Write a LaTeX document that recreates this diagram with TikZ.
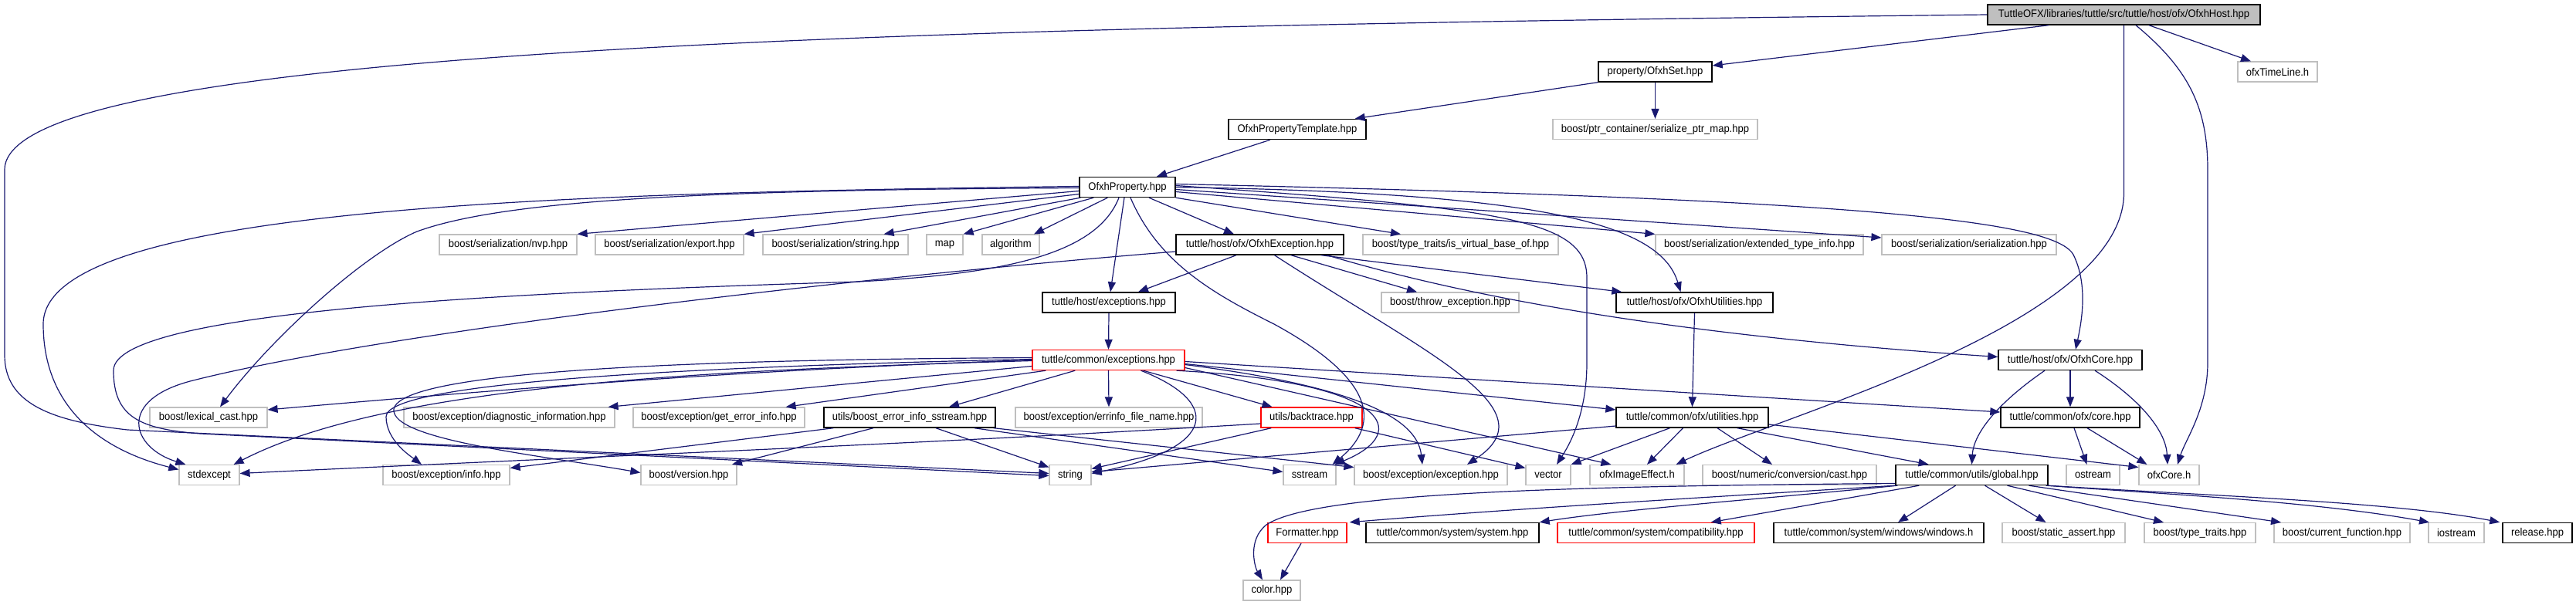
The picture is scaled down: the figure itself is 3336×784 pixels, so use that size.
\documentclass[tikz,border=0pt]{standalone}
\usepackage{fontspec}
\setmainfont{Liberation Sans}[FakeStretch=0.93]
\usetikzlibrary{arrows.meta,calc}
\definecolor{eblue}{RGB}{25,25,112}
\definecolor{dgray}{RGB}{191,191,191}
\definecolor{rootgray}{RGB}{191,191,191}
\newcommand\dfont{\fontsize{14}{16}\selectfont}
\tikzset{
  nd/.style={rectangle, minimum height=26pt, inner sep=0pt, fill=white, font=\dfont, text=black},
  ext/.style={nd, draw=dgray, line width=1.2pt},
  doc/.style={nd, draw=black, line width=1.4pt},
  trunc/.style={nd, draw=red, line width=1.4pt},
  root/.style={nd, draw=black, fill=rootgray, line width=1.4pt},
  bw/.style={minimum width=#1pt},
  edge/.style={draw=eblue, line width=1.2pt, -{Triangle[length=13pt,width=10pt]}}
}
\begin{document}
\begin{tikzpicture}[x=1pt,y=-1pt]
\useasboundingbox (0,0) rectangle (3336,784);
% row 0
\node[root,bw=353] (host) at (2750.5,19) {TuttleOFX/libraries/tuttle/src/tuttle/host/ofx/OfxhHost.hpp};
% row 1
\node[doc,bw=147] (oset) at (2143.5,93) {property/OfxhSet.hpp};
\node[ext,bw=103] (tline) at (2949.5,93) {ofxTimeLine.h};
% row 2
\node[doc,bw=178] (tmpl) at (1680,167.5) {OfxhPropertyTemplate.hpp};
\node[ext,bw=265] (sptr) at (2143.5,167.5) {boost/ptr\_container/serialize\_ptr\_map.hpp};
% row 3
\node[doc,bw=124] (prop) at (1460,242.5) {OfxhProperty.hpp};
% row 4
\node[ext,bw=178] (nvp) at (658,317) {boost/serialization/nvp.hpp};
\node[ext,bw=192] (export) at (867,317) {boost/serialization/export.hpp};
\node[ext,bw=188] (sstrh) at (1082,317) {boost/serialization/string.hpp};
\node[ext,bw=47] (map) at (1223.5,317) {map};
\node[ext,bw=74] (algo) at (1309,317) {algorithm};
\node[doc,bw=217] (oexc) at (1631.5,317) {tuttle/host/ofx/OfxhException.hpp};
\node[ext,bw=253] (ivb) at (1891.5,317) {boost/type\_traits/is\_virtual\_base\_of.hpp};
\node[ext,bw=269] (eti) at (2278.5,317) {boost/serialization/extended\_type\_info.hpp};
\node[ext,bw=226] (ser) at (2550,317) {boost/serialization/serialization.hpp};
% row 5
\node[doc,bw=172] (hexc) at (1436,392) {tuttle/host/exceptions.hpp};
\node[ext,bw=178] (thr) at (1878,392) {boost/throw\_exception.hpp};
\node[doc,bw=203] (outil) at (2194.5,392) {tuttle/host/ofx/OfxhUtilities.hpp};
% row 6
\node[trunc,bw=197] (cexc) at (1435.5,466.5) {tuttle/common/exceptions.hpp};
\node[doc,bw=186] (ocore) at (2681,466.5) {tuttle/host/ofx/OfxhCore.hpp};
% row 7
\node[ext,bw=152] (lex) at (270,541) {boost/lexical\_cast.hpp};
\node[ext,bw=273] (diag) at (659.5,541) {boost/exception/diagnostic\_information.hpp};
\node[ext,bw=222] (gei) at (931,541) {boost/exception/get\_error\_info.hpp};
\node[doc,bw=222] (beis) at (1178,541) {utils/boost\_error\_info\_sstream.hpp};
\node[ext,bw=242] (efn) at (1436,541) {boost/exception/errinfo\_file\_name.hpp};
\node[trunc,bw=131] (bt) at (1698.5,541) {utils/backtrace.hpp};
\node[doc,bw=197] (cutil) at (2191.5,541) {tuttle/common/ofx/utilities.hpp};
\node[doc,bw=180] (ccore) at (2681,541) {tuttle/common/ofx/core.hpp};
% row 8
\node[ext,bw=78] (stdexc) at (271,615.5) {stdexcept};
\node[ext,bw=164] (info) at (578,615.5) {boost/exception/info.hpp};
\node[ext,bw=124] (ver) at (892,615.5) {boost/version.hpp};
\node[ext,bw=54] (str) at (1386,615.5) {string};
\node[ext,bw=68] (sstr) at (1696,615.5) {sstream};
\node[ext,bw=198] (bexc) at (1853,615.5) {boost/exception/exception.hpp};
\node[ext,bw=58] (vec) at (2005,615.5) {vector};
\node[ext,bw=122] (oie) at (2120,615.5) {ofxImageEffect.h};
\node[ext,bw=225] (ncast) at (2317.5,615.5) {boost/numeric/conversion/cast.hpp};
\node[doc,bw=197] (glob) at (2553.5,615.5) {tuttle/common/utils/global.hpp};
\node[ext,bw=69] (ostr) at (2710.5,615.5) {ostream};
\node[ext,bw=78] (ofxc) at (2809,615.5) {ofxCore.h};
% row 9
\node[trunc,bw=102] (fmt) at (1693,690.5) {Formatter.hpp};
\node[doc,bw=224] (sys) at (1881,690.5) {tuttle/common/system/system.hpp};
\node[trunc,bw=255] (compat) at (2144.5,690.5) {tuttle/common/system/compatibility.hpp};
\node[doc,bw=272] (win) at (2433,690.5) {tuttle/common/system/windows/windows.h};
\node[ext,bw=159] (sassert) at (2672.5,690.5) {boost/static\_assert.hpp};
\node[ext,bw=144] (ttr) at (2849,690.5) {boost/type\_traits.hpp};
\node[ext,bw=176] (cfun) at (3033,690.5) {boost/current\_function.hpp};
\node[ext,bw=72] (ios) at (3181,690.5) {iostream};
\node[doc,bw=90] (rel) at (3286,690.5) {release.hpp};
% row 10
\node[ext,bw=74] (color) at (1647,765) {color.hpp};

% ---- edges from OfxhHost
\draw[edge] ($(host.south)+(-97.5,0)$) -- ($(oset.east)+(0,-8)$);
\draw[edge] ($(host.south)+(32.5,0)$) -- ($(tline.north)+(-34.5,0)$);
\draw[edge] (host.west) .. controls (1200,35) and (6,60) .. (6,220) -- (6,460) .. controls (6,520) and (60,545) .. (165,557) -- ($(str.west)+(0,-2)$);
\draw[edge] (host.south) -- (2750.5,250) .. controls (2750.5,420) and (2300,540) .. ($(oie.north east)+(-11,0)$);
\draw[edge] ($(host.south)+(15.5,0)$) .. controls (2835,90) and (2859,140) .. (2859,220) -- (2859,470) .. controls (2859,530) and (2830,570) .. ($(ofxc.north)+(11,0)$);
% ---- OfxhSet, template
\draw[edge] (oset.south west) -- ($(tmpl.north east)+(-15,0)$);
\draw[edge] (oset.south) -- (sptr.north);
\draw[edge] ($(tmpl.south)+(-35,0)$) -- ($(prop.north)+(38,0)$);
% ---- OfxhProperty
\draw[edge] ($(prop.west)+(0,5)$) -- (nvp.north east);
\draw[edge] ($(prop.west)+(0,9)$) -- (export.north east);
\draw[edge] ($(prop.south west)+(2,0)$) -- ($(sstrh.north east)+(-32,0)$);
\draw[edge] ($(prop.south west)+(19,0)$) -- (map.north east);
\draw[edge] ($(prop.south west)+(37,0)$) -- ($(algo.north)+(30,0)$);
\draw[edge] ($(prop.south)+(28,0)$) -- ($(oexc.north)+(-33.5,0)$);
\draw[edge] (prop.south east) -- ($(ivb.north)+(-77.5,0)$);
\draw[edge] ($(prop.east)+(0,6)$) -- (eti.north west);
\draw[edge] ($(prop.east)+(0,3)$) -- ($(ser.west)+(0,-9)$);
\draw[edge] (prop.east) .. controls (2000,250) and (2150,290) .. ($(outil.north)+(-18,0)$);
\draw[edge] ($(prop.east)+(0,-2)$) .. controls (1950,270) and (2055,285) .. (2055,360) -- (2055,470) .. controls (2055,540) and (2030,580) .. ($(vec.north)+(11,0)$);
\draw[edge] ($(prop.east)+(0,-4)$) .. controls (2400,258) and (2660,285) .. (2685,330) .. controls (2705,370) and (2695,420) .. ($(ocore.north)+(7,0)$);
\draw[edge] ($(prop.west)+(0,-1)$) .. controls (700,250) and (56,270) .. (56,420) .. controls (56,520) and (120,580) .. ($(stdexc.west)+(0,-7)$);
\draw[edge] ($(prop.west)+(0,1)$) .. controls (900,246) and (650,260) .. (540,300) .. controls (470,330) and (350,440) .. ($(lex.north)+(15,0)$);
\draw[edge] ($(prop.south)+(-4,0)$) -- ($(hexc.north)+(2,0)$);
\draw[edge] ($(prop.south)+(4,0)$) .. controls (1500,340) and (1570,380) .. (1650,420) .. controls (1760,480) and (1800,540) .. ($(sstr.north east)+(-5,0)$);
\draw[edge] ($(prop.south)+(-11,0)$) .. controls (1420,330) and (1300,355) .. (1112,365) .. controls (700,378) and (147,400) .. (147,480) .. controls (147,540) and (180,556) .. (260,562) -- ($(str.west)+(0,1)$);
% ---- OfxhException
\draw[edge] ($(oexc.south)+(-30.5,0)$) -- ($(hexc.north)+(38,0)$);
\draw[edge] ($(oexc.south)+(40.5,0)$) -- ($(thr.north)+(-43,0)$);
\draw[edge] ($(oexc.south)+(79.5,0)$) -- ($(outil.north west)+(8,0)$);
\draw[edge] ($(oexc.south east)+(-22,0)$) .. controls (1950,400) and (2250,440) .. ($(ocore.west)+(0,-4)$);
\draw[edge] ($(oexc.south)+(19,0)$) .. controls (1850,460) and (2010,530) .. ($(bexc.north)+(47,0)$);
\draw[edge] ($(oexc.west)+(0,9)$) .. controls (1100,360) and (500,430) .. (250,493) .. controls (150,518) and (170,580) .. ($(stdexc.north west)+(9,0)$);
% ---- host/exceptions
\draw[edge] (hexc.south) -- (cexc.north);
% ---- common/exceptions
\draw[edge] (cexc.west) .. controls (1000,478) and (700,500) .. ($(lex.east)+(0,-10)$);
\draw[edge] ($(cexc.west)+(0,1)$) .. controls (900,480) and (500,500) .. ($(stdexc.north east)+(-8,0)$);
\draw[edge] ($(cexc.west)+(0,-1)$) .. controls (900,475) and (500,495) .. (500,540) .. controls (500,570) and (530,590) .. ($(info.north)+(-32,0)$);
\draw[edge] ($(cexc.west)+(0,-3)$) .. controls (900,466) and (520,480) .. (510,530) .. controls (505,570) and (700,590) .. ($(ver.west)+(0,-3)$);
\draw[edge] ($(cexc.west)+(0,8)$) -- ($(diag.north east)+(-9,0)$);
\draw[edge] ($(cexc.south west)+(18,0)$) -- ($(gei.north east)+(-25,0)$);
\draw[edge] ($(cexc.south west)+(56,0)$) -- ($(beis.north)+(51,0)$);
\draw[edge] (cexc.south) -- (efn.north);
\draw[edge] ($(cexc.south)+(45,0)$) -- ($(bt.north)+(-51,0)$);
\draw[edge] ($(cexc.south)+(42,0)$) .. controls (1580,520) and (1580,580) .. ($(str.east)+(0,-2)$);
\draw[edge] ($(cexc.south east)+(-11,0)$) .. controls (1800,495) and (1830,560) .. ($(sstr.north east)+(-2,0)$);
\draw[edge] ($(cexc.east)+(0,6)$) .. controls (1750,500) and (1835,540) .. ($(bexc.north)+(-11,0)$);
\draw[edge] ($(cexc.east)+(0,10)$) -- ($(oie.north west)+(28,0)$);
\draw[edge] ($(cexc.east)+(0,5)$) -- ($(cutil.west)+(0,-10)$);
\draw[edge] ($(cexc.east)+(0,2)$) -- ($(ccore.west)+(0,-7)$);
% ---- boost_error_info_sstream
\draw[edge] ($(beis.south west)+(13,0)$) -- ($(info.east)+(0,-9)$);
\draw[edge] ($(beis.south)+(-47,0)$) -- ($(ver.north)+(56,0)$);
\draw[edge] ($(beis.south)+(34,0)$) -- ($(str.west)+(0,-10)$);
\draw[edge] ($(beis.south east)+(-28,0)$) -- ($(sstr.west)+(0,-4)$);
\draw[edge] ($(beis.south east)+(-3,0)$) -- ($(bexc.west)+(0,-10)$);
% ---- backtrace
\draw[edge] ($(bt.west)+(0,8)$) .. controls (1200,575) and (800,590) .. ($(stdexc.east)+(0,-2)$);
\draw[edge] ($(bt.south west)+(14,0)$) -- ($(str.east)+(0,-8)$);
\draw[edge] ($(bt.south east)+(-10,0)$) -- ($(vec.west)+(0,-9)$);
% ---- common/ofx/utilities
\draw[edge] ($(cutil.west)+(0,11)$) -- ($(str.east)+(0,-4)$);
\draw[edge] ($(cutil.south)+(-29,0)$) -- (vec.north east);
\draw[edge] ($(cutil.south)+(-12,0)$) -- ($(oie.north)+(13,0)$);
\draw[edge] ($(cutil.south)+(32.5,0)$) -- ($(ncast.north)+(-22.5,0)$);
\draw[edge] ($(cutil.south east)+(-41,0)$) -- ($(glob.north)+(-56,0)$);
\draw[edge] ($(cutil.east)+(0,9)$) -- ($(ofxc.west)+(0,-10)$);
% ---- OfxhUtilities, OfxhCore, core
\draw[edge] (outil.south) -- (cutil.north);
\draw[edge] (ocore.south) -- (ccore.north);
\draw[edge] ($(ocore.south)+(-33,0)$) .. controls (2590,520) and (2556,560) .. (glob.north);
\draw[edge] ($(ocore.south)+(32,0)$) .. controls (2775,520) and (2805,560) .. ($(ofxc.north)+(-2,0)$);
\draw[edge] ($(ccore.south)+(5,0)$) -- ($(ostr.north)+(-8,0)$);
\draw[edge] ($(ccore.south)+(22,0)$) -- ($(ofxc.north west)+(11,0)$);
% ---- global
\draw[edge] (glob.south west) .. controls (2200,645) and (1950,660) .. ($(fmt.north east)+(3,0)$);
\draw[edge] ($(glob.south west)+(3,0)$) .. controls (2300,645) and (2100,660) .. (sys.north east);
\draw[edge] ($(glob.south west)+(31,0)$) -- ($(compat.north east)+(-57,0)$);
\draw[edge] ($(glob.west)+(0,11)$) .. controls (2000,630) and (1700,640) .. (1640,680) .. controls (1615,700) and (1625,735) .. ($(color.north)+(-12,0)$);
\draw[edge] ($(glob.south)+(-21,0)$) -- ($(win.north)+(25,0)$);
\draw[edge] ($(glob.south)+(17,0)$) -- ($(sassert.north)+(-23,0)$);
\draw[edge] ($(glob.south)+(46,0)$) -- ($(ttr.north)+(-47,0)$);
\draw[edge] ($(glob.south)+(74,0)$) -- ($(cfun.north)+(-79,0)$);
\draw[edge] ($(glob.south east)+(-3,0)$) .. controls (2800,640) and (3000,650) .. ($(ios.north)+(-35,0)$);
\draw[edge] (glob.south east) .. controls (2850,642) and (3100,650) .. ($(rel.north west)+(-3,0)$);
% ---- Formatter
\draw[edge] ($(fmt.south)+(-8,0)$) -- ($(color.north)+(11,0)$);
\end{tikzpicture}
\end{document}
